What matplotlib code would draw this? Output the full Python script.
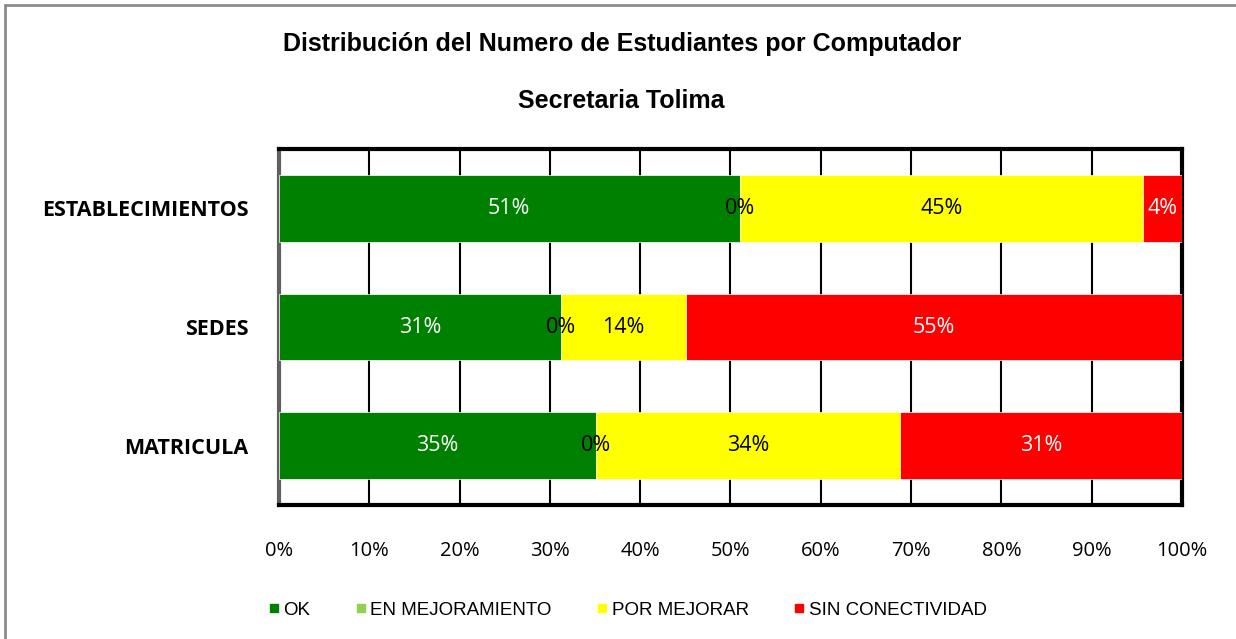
import matplotlib.pyplot as plt
from matplotlib.patches import Rectangle
from matplotlib.lines import Line2D

# Data (percent)
categorias = ['ESTABLECIMIENTOS', 'SEDES', 'MATRICULA']
ok = [51.0, 31.2, 35.1]
en_mejoramiento = [0.0, 0.0, 0.0]
por_mejorar = [44.7, 13.9, 33.7]
sin_conectividad = [4.3, 54.9, 31.2]

series = ['OK', 'EN MEJORAMIENTO', 'POR MEJORAR', 'SIN CONECTIVIDAD']
colores = ['#008000', '#92D050', '#FFFF00', '#FF0000']
color_texto = ['white', 'black', 'black', 'white']

plt.rcParams['font.family'] = ['Liberation Sans', 'DejaVu Sans']
calibri_like = ['Open Sans', 'DejaVu Sans']

fig = plt.figure(figsize=(12.36, 6.39), dpi=100)
ax = fig.add_axes([0.2257, 0.2097, 0.7306, 0.5571])

# figure border
fig.patches.append(Rectangle((0.004, -0.1), 1.2, 1.092, transform=fig.transFigure,
                             fill=False, edgecolor='#8c8c8c', linewidth=2))

ys = list(range(len(categorias)))
left = [0.0] * len(categorias)
for nombre, vals, col, tcol in zip(series, [ok, en_mejoramiento, por_mejorar, sin_conectividad],
                                   colores, color_texto):
    ax.barh(ys, vals, left=left, height=0.56, color=col, edgecolor='white',
            linewidth=0.5, zorder=3)
    for y, l, v in zip(ys, left, vals):
        ax.text(l + v / 2, y, f"{v:.0f}%", ha='center', va='center',
                color=tcol, fontsize=15.5, family=calibri_like, zorder=4)
    left = [a + b for a, b in zip(left, vals)]

ax.set_xlim(0, 100)
ax.set_ylim(2.5, -0.5)
ax.set_xticks(range(0, 101, 10))
ax.set_xticklabels([f"{t}%" for t in range(0, 101, 10)], fontsize=14.5, family=calibri_like)
ax.set_yticks(ys)
ax.set_yticklabels(categorias, fontsize=15.5, fontweight='bold', family=calibri_like)
ax.tick_params(axis='both', length=0)
ax.tick_params(axis='x', pad=26)
ax.tick_params(axis='y', pad=22)
ax.grid(axis='x', color='black', linewidth=1.5, zorder=1)
for s in ax.spines.values():
    s.set_linewidth(3)
    s.set_color('black')
ax.spines['left'].set_color('#606060')

fig.text(0.503, 0.931, 'Distribución del Numero de Estudiantes por Computador',
         ha='center', va='center', fontsize=18, fontweight='bold')
fig.text(0.503, 0.842, 'Secretaria Tolima', ha='center', va='center',
         fontsize=18, fontweight='bold')

handles = [Line2D([], [], marker='s', linestyle='none', markersize=6,
                  markerfacecolor=c, markeredgecolor=c) for c in colores]
fig.legend(handles, series, loc='center', bbox_to_anchor=(0.507, 0.045), ncol=4,
           frameon=False, fontsize=13.5, handletextpad=0.1, columnspacing=2.3,
           handlelength=0.8)

fig.savefig('out.png', dpi=100)
